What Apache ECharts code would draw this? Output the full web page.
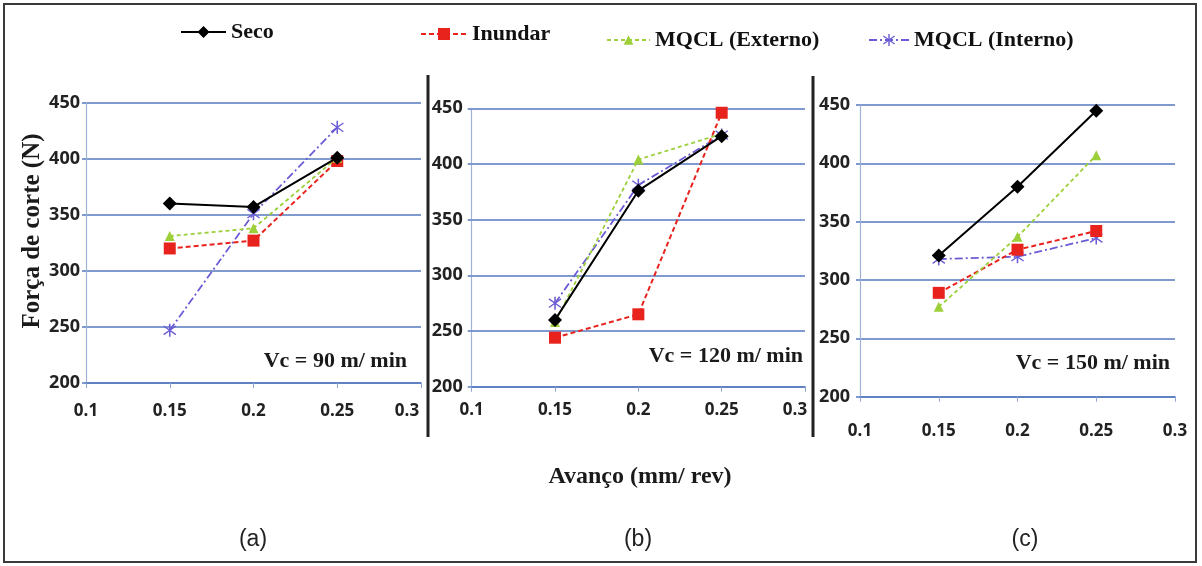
<!DOCTYPE html>
<html>
<head>
<meta charset="utf-8">
<script src="https://cdn.jsdelivr.net/npm/echarts@6/dist/echarts.min.js"></script>
<style>
html,body{margin:0;padding:0;background:#fff;}
#main{width:1202px;height:566px;}
</style>
</head>
<body>
<div id="main"></div>
<script>
// ---- data ----
var feeds = [0.15, 0.2, 0.25];
var xTicks = [0.1, 0.15, 0.2, 0.25, 0.3];
var yTicks = [200, 250, 300, 350, 400, 450];
var seriesNames = ['Seco', 'Inundar', 'MQCL (Externo)', 'MQCL (Interno)'];
var panelLabels = ['Vc = 90 m/ min', 'Vc = 120 m/ min', 'Vc = 150 m/ min'];
var panelLetters = ['(a)', '(b)', '(c)'];

var seco90 = [360, 357, 401];
var inundar90 = [320, 327, 398];
var externo90 = [331, 338, 401];
var interno90 = [247, 351, 428];

var seco120 = [260, 376, 425];
var inundar120 = [244, 265, 446];
var externo120 = [258, 404, 427];
var interno120 = [275, 381, 426];

var seco150 = [321, 380, 445];
var inundar150 = [289, 326, 342];
var externo150 = [277, 337, 407];
var interno150 = [318, 320, 336];

var panels = [
  [seco90, inundar90, externo90, interno90],
  [seco120, inundar120, externo120, interno120],
  [seco150, inundar150, externo150, interno150]
];

// ---- styles ----
var gridColor = '#5679be';
var serifFont = '"Liberation Serif", "DejaVu Serif", serif';
var sansFont = '"Open Sans", "DejaVu Sans", sans-serif';
var asterisk = 'path://M9,0h2v20h-2z M1.6,4.2L2.6,2.5L18.4,15.8L17.4,17.5z M17.4,2.5L18.4,4.2L2.6,17.5L1.6,15.8z';

var styles = [
  {color:'#000000', symbol:'diamond', size:14, line:{type:'solid', width:2}},
  {color:'#e8231e', symbol:'rect', size:12, line:{type:[5,3], width:2}},
  {color:'#9ccf3a', symbol:'triangle', size:10, line:{type:[4,3], width:1.8}},
  {color:'#6a5cd4', symbol:asterisk, size:13, line:{type:[8,3,2,3], width:1.8}}
];

var grids = [
  {left:86, top:102.7, width:335, height:280.3},
  {left:471.7, top:108.3, width:333.3, height:278.4},
  {left:860, top:105, width:315, height:291.7}
];
var xLabelMargin = [20, 15, 26];
var yLabelMargin = [6, 9, 10];
var maxLabelShift = [28, 20, 0];

function makeXFormatter(p) {
  return function (v) {
    var t = String(Math.round(v * 100) / 100);
    if (Math.abs(v - xTicks[xTicks.length - 1]) < 1e-9 && maxLabelShift[p] > 0) return '{m|' + t + '}';
    return t;
  };
}

var xAxes = [], yAxes = [], series = [];
for (var p = 0; p < 3; p++) {
  xAxes.push({
    type:'value', gridIndex:p, min:xTicks[0], max:xTicks[xTicks.length-1],
    interval:xTicks[1]-xTicks[0],
    axisLine:{show:true, lineStyle:{color:gridColor, width:1.6}},
    axisTick:{show:true, length:5, lineStyle:{color:'#8ea4d2', width:1}},
    splitLine:{show:false},
    axisLabel:{margin:xLabelMargin[p], fontFamily:sansFont, fontSize:17, fontWeight:'bold', color:'#222',
      formatter:makeXFormatter(p),
      rich:{m:{fontFamily:sansFont, fontSize:17, fontWeight:'bold', color:'#222', padding:[0, maxLabelShift[p], 0, 0]}}}
  });
  yAxes.push({
    type:'value', gridIndex:p, min:yTicks[0], max:yTicks[yTicks.length-1],
    interval:yTicks[1]-yTicks[0],
    axisLine:{show:true, lineStyle:{color:'#9fb3d9', width:1.2}},
    axisTick:{show:true, length:4, lineStyle:{color:gridColor, width:1.5}},
    splitLine:{show:true, lineStyle:{color:gridColor, width:1.6}},
    axisLabel:{margin:yLabelMargin[p], fontFamily:sansFont, fontSize:18, fontWeight:'bold', color:'#222'}
  });
  var order = [3, 1, 2, 0];
  for (var k = 0; k < order.length; k++) {
    var s = order[k];
    var st = styles[s];
    var vals = panels[p][s];
    var data = [];
    for (var i = 0; i < feeds.length; i++) data.push([feeds[i], vals[i]]);
    series.push({
      name:seriesNames[s], type:'line', xAxisIndex:p, yAxisIndex:p,
      data:data, symbol:st.symbol, symbolSize:st.size,
      itemStyle:{color:st.color},
      lineStyle:{color:st.color, type:st.line.type, width:st.line.width},
      z:2+k, animation:false
    });
  }
}

var legendText = {fontFamily:serifFont, fontSize:22, fontWeight:'bold', color:'#111'};
var legends = [
  {data:['Seco'], left:180, top:21, itemWidth:45, itemHeight:15},
  {data:['Inundar'], left:420, top:23, itemWidth:46, itemHeight:15},
  {data:['MQCL (Externo)'], left:606, top:29, itemWidth:43, itemHeight:12},
  {data:['MQCL (Interno)'], left:868, top:29, itemWidth:40, itemHeight:15}
].map(function(l){ l.padding = 0; l.textStyle = legendText; return l; });

var vcPos = [[407, 361], [803, 356], [1170, 363]];
var letterPos = [[253, 540], [638, 540], [1025, 540]];
var graphics = [
  {type:'rect', shape:{x:4, y:4, width:1192, height:558}, style:{fill:null, stroke:'#3a3a3a', lineWidth:2}, z:100},
  {type:'line', shape:{x1:428, y1:75, x2:428, y2:437}, style:{stroke:'#222', lineWidth:3}, z:100},
  {type:'line', shape:{x1:813, y1:76, x2:813, y2:437}, style:{stroke:'#222', lineWidth:3}, z:100},
  {type:'text', x:33, y:231, rotation:Math.PI/2,
    style:{text:'Força de corte (N)', fontFamily:serifFont, fontSize:25, fontWeight:'bold', fill:'#1a1a1a', align:'center', verticalAlign:'middle'}, z:100},
  {type:'text', x:640, y:477,
    style:{text:'Avanço (mm/ rev)', fontFamily:serifFont, fontSize:24, fontWeight:'bold', fill:'#1a1a1a', align:'center', verticalAlign:'middle'}, z:100}
];
for (var j = 0; j < 3; j++) {
  graphics.push({type:'text', x:vcPos[j][0], y:vcPos[j][1],
    style:{text:panelLabels[j], fontFamily:serifFont, fontSize:22, fontWeight:'bold', fill:'#1a1a1a', align:'right', verticalAlign:'middle'}, z:100});
  graphics.push({type:'text', x:letterPos[j][0], y:letterPos[j][1],
    style:{text:panelLetters[j], fontFamily:'"Liberation Sans", Arial, sans-serif', fontSize:23, fill:'#222', align:'center', verticalAlign:'middle'}, z:100});
}

var chart = echarts.init(document.getElementById('main'), null, {renderer:'canvas'});
chart.setOption({
  backgroundColor:'#ffffff',
  animation:false,
  grid:grids,
  xAxis:xAxes,
  yAxis:yAxes,
  legend:legends,
  series:series,
  graphic:graphics
});
</script>
</body>
</html>
